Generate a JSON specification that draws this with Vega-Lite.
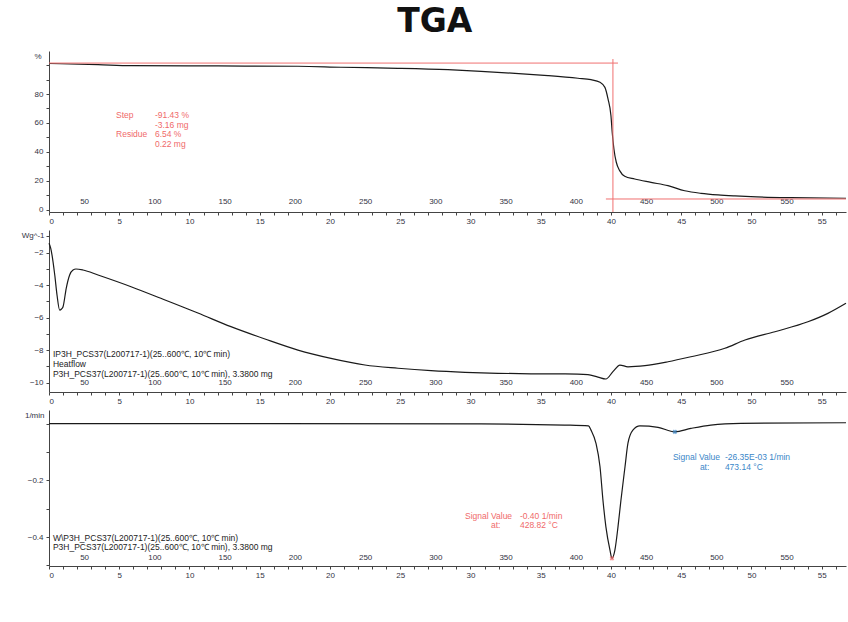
{
  "$schema": "https://vega.github.io/schema/vega-lite/v6.json",
  "padding": {"left": 21, "top": 6, "right": 0, "bottom": 0},
  "title": {"text": "TGA", "font": "DejaVu Sans", "fontSize": 33, "fontWeight": "bold", "color": "#111111", "anchor": "middle", "offset": 12},
  "spacing": 5,
  "config": {
    "view": {"stroke": null},
    "axis": {"labelFont": "Liberation Sans", "labelFontSize": 8, "labelColor": "#333344", "domainColor": "#444444", "tickColor": "#444444", "grid": false, "titleFont": "Liberation Sans", "titleFontSize": 8, "titleFontWeight": "normal", "titleColor": "#333344"},
    "text": {"font": "Liberation Sans", "fontSize": 8.5, "align": "left", "baseline": "middle"}
  },
  "datasets": {
    "tga": [
      {"t": 0, "v": 101.1}, {"t": 3.49, "v": 100.3}, {"t": 5.84, "v": 99.6}, {"t": 12.03, "v": 99.4}, {"t": 17.72, "v": 99.2},
      {"t": 20.78, "v": 98.5}, {"t": 24.84, "v": 97.8}, {"t": 28.4, "v": 96.8}, {"t": 30.75, "v": 95.7}, {"t": 33.17, "v": 94.3},
      {"t": 35.52, "v": 92.7}, {"t": 37.65, "v": 90.9}, {"t": 38.58, "v": 89.9}, {"t": 39.22, "v": 88.1}, {"t": 39.57, "v": 84.6},
      {"t": 39.79, "v": 76.6}, {"t": 40.0, "v": 65}, {"t": 40.09, "v": 53.5}, {"t": 40.21, "v": 42}, {"t": 40.38, "v": 32.8},
      {"t": 40.62, "v": 27}, {"t": 40.98, "v": 23.1}, {"t": 41.69, "v": 21.2}, {"t": 42.85, "v": 18.9}, {"t": 44.06, "v": 16.6},
      {"t": 45.25, "v": 13.1}, {"t": 46.41, "v": 11.3}, {"t": 47.62, "v": 10.2}, {"t": 48.83, "v": 9.5}, {"t": 49.96, "v": 9.0},
      {"t": 52.81, "v": 8.3}, {"t": 56.73, "v": 7.9}
    ],
    "tgaRed": [
      {"t": 0, "t2": 40.5, "v": 101.4, "v2": 101.4},
      {"t": 40.14, "t2": 40.14, "v": 104.2, "v2": -1.6},
      {"t": 39.64, "t2": 56.73, "v": 7.4, "v2": 7.4}
    ],
    "tgaText": [
      {"t": 4.77, "v": 65.5, "s": "Step"},
      {"t": 7.54, "v": 65.5, "s": "-91.43 %"},
      {"t": 7.54, "v": 58.6, "s": "-3.16 mg"},
      {"t": 4.77, "v": 52.4, "s": "Residue"},
      {"t": 7.54, "v": 52.4, "s": "6.54 %"},
      {"t": 7.54, "v": 45.5, "s": "0.22 mg"}
    ],
    "dsc": [
      {"t": 0, "v": -1.42}, {"t": 0.12, "v": -1.71}, {"t": 0.41, "v": -3.37}, {"t": 0.57, "v": -4.6}, {"t": 0.76, "v": -5.53},
      {"t": 0.89, "v": -5.46}, {"t": 1.0, "v": -5.32}, {"t": 1.23, "v": -4.17}, {"t": 1.47, "v": -3.37}, {"t": 1.71, "v": -3.06},
      {"t": 1.92, "v": -3.0}, {"t": 2.42, "v": -3.06}, {"t": 3.49, "v": -3.37}, {"t": 5.84, "v": -4.09}, {"t": 8.26, "v": -4.91},
      {"t": 10.6, "v": -5.71}, {"t": 12.95, "v": -6.55}, {"t": 15.37, "v": -7.31}, {"t": 17.72, "v": -7.99}, {"t": 20.07, "v": -8.5},
      {"t": 22.49, "v": -8.91}, {"t": 24.84, "v": -9.11}, {"t": 27.19, "v": -9.26}, {"t": 29.61, "v": -9.36}, {"t": 31.96, "v": -9.42},
      {"t": 34.31, "v": -9.45}, {"t": 36.73, "v": -9.46}, {"t": 38.36, "v": -9.5}, {"t": 39.07, "v": -9.65}, {"t": 39.64, "v": -9.77},
      {"t": 40.14, "v": -9.32}, {"t": 40.64, "v": -8.91}, {"t": 41.21, "v": -9.02}, {"t": 42.42, "v": -8.95}, {"t": 44.06, "v": -8.71},
      {"t": 45.69, "v": -8.4}, {"t": 48.11, "v": -7.88}, {"t": 49.54, "v": -7.37}, {"t": 51.67, "v": -6.86}, {"t": 54.02, "v": -6.25},
      {"t": 55.44, "v": -5.73}, {"t": 56.73, "v": -5.11}
    ],
    "dscText": [
      {"t": 0.28, "v": -8.23, "s": "IP3H_PCS37(L200717-1)(25..600℃, 10℃ min)"},
      {"t": 0.28, "v": -8.85, "s": "Heatflow"},
      {"t": 0.28, "v": -9.46, "s": "P3H_PCS37(L200717-1)(25..600℃, 10℃ min), 3.3800 mg"}
    ],
    "dtg": [
      {"t": 0, "v": 0.0}, {"t": 30.75, "v": -0.001}, {"t": 36.7, "v": -0.005}, {"t": 38.4, "v": -0.008}, {"t": 38.58, "v": -0.023},
      {"t": 38.93, "v": -0.069}, {"t": 39.22, "v": -0.152}, {"t": 39.43, "v": -0.27}, {"t": 39.64, "v": -0.364}, {"t": 39.93, "v": -0.446},
      {"t": 40.07, "v": -0.475}, {"t": 40.28, "v": -0.446}, {"t": 40.5, "v": -0.364}, {"t": 40.71, "v": -0.27}, {"t": 41.0, "v": -0.152},
      {"t": 41.21, "v": -0.069}, {"t": 41.56, "v": -0.023}, {"t": 42.06, "v": -0.008}, {"t": 43.35, "v": -0.013}, {"t": 44.55, "v": -0.029},
      {"t": 45.69, "v": -0.017}, {"t": 47.11, "v": -0.005}, {"t": 49.25, "v": 0.001}, {"t": 56.73, "v": 0.003}
    ],
    "dtgMarks": [
      {"t": 40.07, "v": -0.475, "c": "red"},
      {"t": 44.55, "v": -0.029, "c": "blue"}
    ],
    "dtgText": [
      {"t": 0.28, "v": -0.402, "s": "W\\P3H_PCS37(L200717-1)(25..600℃, 10℃ min)", "c": "black"},
      {"t": 0.28, "v": -0.434, "s": "P3H_PCS37(L200717-1)(25..600℃, 10℃ min), 3.3800 mg", "c": "black"},
      {"t": 29.61, "v": -0.326, "s": "Signal Value", "c": "red"},
      {"t": 33.52, "v": -0.326, "s": "-0.40 1/min", "c": "red"},
      {"t": 31.46, "v": -0.359, "s": "at:", "c": "red"},
      {"t": 33.52, "v": -0.359, "s": "428.82 °C", "c": "red"},
      {"t": 44.41, "v": -0.118, "s": "Signal Value", "c": "blue"},
      {"t": 48.11, "v": -0.118, "s": "-26.35E-03 1/min", "c": "blue"},
      {"t": 46.33, "v": -0.153, "s": "at:", "c": "blue"},
      {"t": 48.11, "v": -0.153, "s": "473.14 °C", "c": "blue"}
    ]
  },
  "vconcat": [
    {
      "width": 797, "height": 161,
      "resolve": {"axis": {"x": "independent", "y": "independent"}},
      "layer": [
        {
          "data": {"name": "tga"},
          "mark": {"type": "line", "color": "#1a1a1a", "strokeWidth": 1.2, "interpolate": "monotone"},
          "encoding": {
            "x": {"field": "t", "type": "quantitative", "scale": {"domain": [0, 56.73], "nice": false, "zero": false},
                  "axis": {"orient": "bottom", "title": null, "values": [0,1,2,3,4,5,6,7,8,9,10,11,12,13,14,15,16,17,18,19,20,21,22,23,24,25,26,27,28,29,30,31,32,33,34,35,36,37,38,39,40,41,42,43,44,45,46,47,48,49,50,51,52,53,54,55,56], "format": "d", "labelExpr": "datum.value % 5 === 0 ? datum.label : ''", "tickSize": 3, "labelPadding": 2}},
            "y": {"field": "v", "type": "quantitative", "scale": {"domain": [-1.6, 109.75], "nice": false, "zero": false},
                  "axis": {"orient": "left", "values": [0,10,20,30,40,50,60,70,80,90,100], "labelExpr": "datum.value % 20 === 0 && datum.value < 100 ? datum.label : ''", "tickSize": 3, "labelPadding": 3, "title": "%", "titleAngle": 0, "titleAlign": "right", "titleBaseline": "middle", "titleX": -8, "titleY": 5}}
          }
        },
        {
          "data": {"name": "tgaRed"},
          "mark": {"type": "rule", "color": "#f07070", "strokeWidth": 1},
          "encoding": {
            "x": {"field": "t", "type": "quantitative",
                  "axis": {"orient": "bottom", "title": null, "offset": -15, "domain": false, "ticks": false, "labelPadding": 0, "values": [2.5,7.5,12.5,17.5,22.5,27.5,32.5,37.5,42.5,47.5,52.5], "labelExpr": "format(datum.value*10+25, 'd')"}},
            "x2": {"field": "t2"},
            "y": {"field": "v", "type": "quantitative", "axis": null},
            "y2": {"field": "v2"}
          }
        },
        {
          "data": {"name": "tgaText"},
          "mark": {"type": "text", "color": "#f06a6a"},
          "encoding": {
            "x": {"field": "t", "type": "quantitative", "axis": null},
            "y": {"field": "v", "type": "quantitative", "axis": null},
            "text": {"field": "s"}
          }
        }
      ]
    },
    {
      "width": 797, "height": 162,
      "resolve": {"axis": {"x": "independent", "y": "independent"}},
      "layer": [
        {
          "data": {"name": "dsc"},
          "mark": {"type": "line", "color": "#1a1a1a", "strokeWidth": 1.2, "interpolate": "monotone"},
          "encoding": {
            "x": {"field": "t", "type": "quantitative", "scale": {"domain": [0, 56.73], "nice": false, "zero": false},
                  "axis": {"orient": "bottom", "title": null, "values": [0,1,2,3,4,5,6,7,8,9,10,11,12,13,14,15,16,17,18,19,20,21,22,23,24,25,26,27,28,29,30,31,32,33,34,35,36,37,38,39,40,41,42,43,44,45,46,47,48,49,50,51,52,53,54,55,56], "format": "d", "labelExpr": "datum.value % 5 === 0 ? datum.label : ''", "tickSize": 3, "labelPadding": 2}},
            "y": {"field": "v", "type": "quantitative", "scale": {"domain": [-10.57, -0.6], "nice": false, "zero": false},
                  "axis": {"orient": "left", "values": [-10,-9,-8,-7,-6,-5,-4,-3,-2,-1], "labelExpr": "datum.value % 2 === 0 ? datum.label : ''", "tickSize": 3, "labelPadding": 3, "title": "Wg^-1", "titleAngle": 0, "titleAlign": "right", "titleBaseline": "middle", "titleX": -5, "titleY": 5}}
          }
        },
        {
          "data": {"name": "dscText"},
          "mark": {"type": "text", "color": "#222222"},
          "encoding": {
            "x": {"field": "t", "type": "quantitative",
                  "axis": {"orient": "bottom", "title": null, "offset": -14, "domain": false, "ticks": false, "labelPadding": 0, "values": [2.5,7.5,12.5,17.5,22.5,27.5,32.5,37.5,42.5,47.5,52.5], "labelExpr": "format(datum.value*10+25, 'd')"}},
            "y": {"field": "v", "type": "quantitative", "axis": null},
            "text": {"field": "s"}
          }
        }
      ]
    },
    {
      "width": 797, "height": 156,
      "resolve": {"axis": {"x": "independent", "y": "independent"}},
      "layer": [
        {
          "data": {"name": "dtg"},
          "mark": {"type": "line", "color": "#1a1a1a", "strokeWidth": 1.2, "interpolate": "monotone"},
          "encoding": {
            "x": {"field": "t", "type": "quantitative", "scale": {"domain": [0, 56.73], "nice": false, "zero": false},
                  "axis": {"orient": "bottom", "title": null, "values": [0,1,2,3,4,5,6,7,8,9,10,11,12,13,14,15,16,17,18,19,20,21,22,23,24,25,26,27,28,29,30,31,32,33,34,35,36,37,38,39,40,41,42,43,44,45,46,47,48,49,50,51,52,53,54,55,56], "format": "d", "labelExpr": "datum.value % 5 === 0 ? datum.label : ''", "tickSize": 3, "labelPadding": 2}},
            "y": {"field": "v", "type": "quantitative", "scale": {"domain": [-0.502, 0.048], "nice": false, "zero": false},
                  "axis": {"orient": "left", "values": [-0.5,-0.4,-0.3,-0.2,-0.1,0], "labelExpr": "datum.value === -0.2 || datum.value === -0.4 ? datum.label : ''", "tickSize": 3, "labelPadding": 3, "title": "1/min", "titleAngle": 0, "titleAlign": "right", "titleBaseline": "middle", "titleX": -5, "titleY": 5}}
          }
        },
        {
          "data": {"name": "dtgMarks"},
          "mark": {"type": "point", "shape": "cross", "angle": 45, "size": 22, "filled": true},
          "encoding": {
            "x": {"field": "t", "type": "quantitative",
                  "axis": {"orient": "bottom", "title": null, "offset": -13, "domain": false, "ticks": false, "labelPadding": 0, "values": [2.5,7.5,12.5,17.5,22.5,27.5,32.5,37.5,42.5,47.5,52.5], "labelExpr": "format(datum.value*10+25, 'd')"}},
            "y": {"field": "v", "type": "quantitative", "axis": null},
            "color": {"field": "c", "type": "nominal", "scale": {"domain": ["red", "blue", "black"], "range": ["#f06a6a", "#3a86c8", "#222222"]}, "legend": null}
          }
        },
        {
          "data": {"name": "dtgText"},
          "mark": {"type": "text"},
          "encoding": {
            "x": {"field": "t", "type": "quantitative", "axis": null},
            "y": {"field": "v", "type": "quantitative", "axis": null},
            "text": {"field": "s"},
            "color": {"field": "c", "type": "nominal", "scale": {"domain": ["red", "blue", "black"], "range": ["#f06a6a", "#3a86c8", "#222222"]}, "legend": null}
          }
        }
      ]
    }
  ]
}
